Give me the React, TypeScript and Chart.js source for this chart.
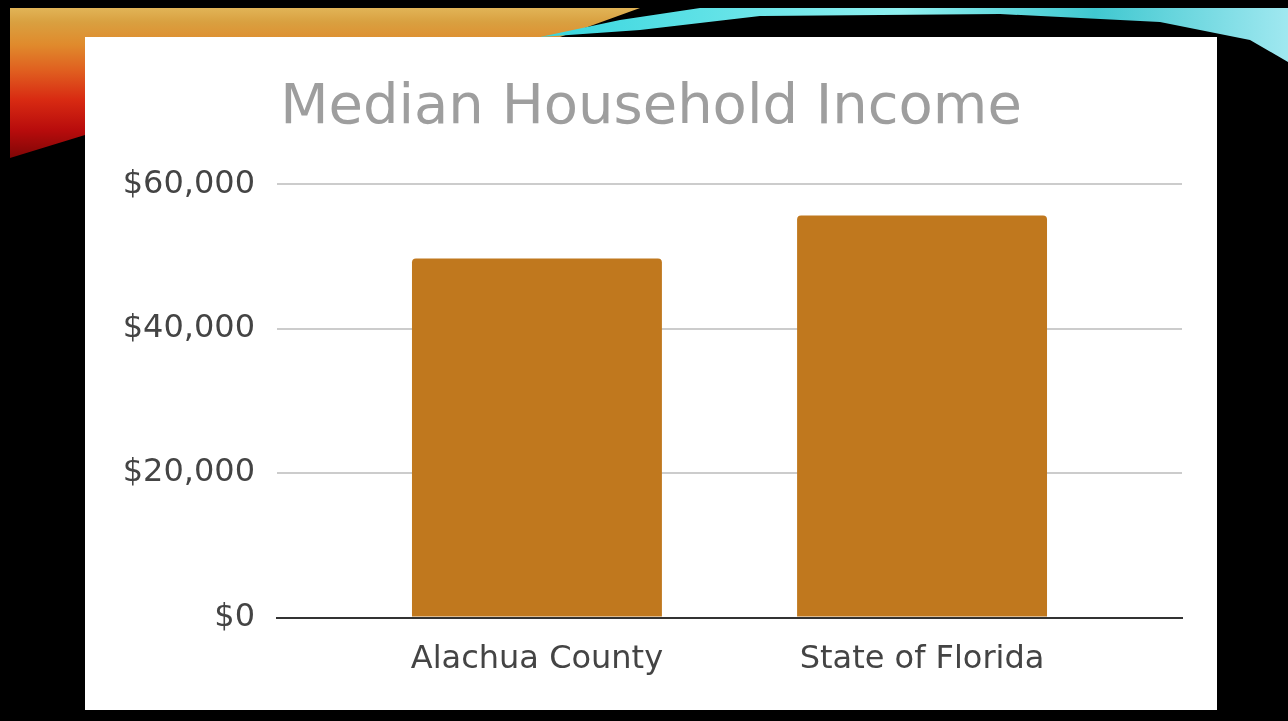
import React, { useEffect, useRef } from "react";
import { Chart, registerables } from "chart.js";

Chart.register(...registerables);

const chartTitle = "Median Household Income";
const categories = ["Alachua County", "State of Florida"];
const incomes = [49700, 55660];
const yTickValues = [0, 20000, 40000, 60000];

const FONT = "'DejaVu Sans', Verdana, sans-serif";

export default function App() {
  const ref = useRef<HTMLCanvasElement>(null);

  useEffect(() => {
    const chart = new Chart(ref.current as HTMLCanvasElement, {
      type: "bar",
      data: {
        datasets: [
          {
            data: incomes.map((v, i) => ({ x: i, y: v })),
            backgroundColor: "#c0781e",
            borderRadius: 4,
            categoryPercentage: 1,
            barPercentage: 0.649,
          },
        ],
      },
      options: {
        animation: false,
        responsive: false,
        layout: { padding: { top: 0, bottom: 8, left: 35, right: 35 } },
        plugins: {
          legend: { display: false },
          tooltip: { enabled: false },
          title: {
            display: true,
            text: chartTitle,
            color: "#9e9e9e",
            font: { family: FONT, size: 56, weight: "normal", lineHeight: 1.2 },
            padding: { top: 38, bottom: 42 },
          },
        },
        scales: {
          x: {
            type: "linear",
            offset: false,
            min: -0.675,
            max: 1.675,
            z: 1,
            grid: { display: false, drawTicks: false, offset: false },
            border: { display: true, color: "#333333", width: 2 },
            afterBuildTicks: (s: any) => {
              s.ticks = categories.map((_, i) => ({ value: i }));
            },
            ticks: {
              callback: (v: any) => categories[Number(v)] ?? "",
              color: "#444444",
              font: { family: FONT, size: 32, lineHeight: 1.2 },
              padding: 23,
              maxRotation: 0,
              autoSkip: false,
            },
          },
          y: {
            min: 0,
            max: 60000,
            afterBuildTicks: (s: any) => {
              s.ticks = yTickValues.map((v) => ({ value: v }));
            },
            afterFit: (s: any) => {
              s.width = 157;
            },
            border: { display: false },
            grid: {
              drawTicks: false,
              color: (ctx: any) => (ctx.tick && ctx.tick.value === 0 ? "#333333" : "#cccccc"),
              lineWidth: 2,
            },
            ticks: {
              callback: (v: any) => "$" + Number(v).toLocaleString("en-US"),
              color: "#444444",
              font: { family: FONT, size: 32, lineHeight: 1.2 },
              padding: 22,
            },
          },
        },
      },
    } as any);
    return () => chart.destroy();
  }, []);

  return (
    <div
      style={{
        position: "absolute",
        left: 0,
        top: 0,
        width: 1288,
        height: 721,
        background: "#000",
        overflow: "hidden",
      }}
    >
      {/* warm decorative band */}
      <div
        style={{
          position: "absolute",
          left: 0,
          top: 0,
          width: 1288,
          height: 721,
          clipPath:
            "polygon(10px 8px, 640px 8px, 560px 37px, 85px 37px, 85px 135px, 10px 158px)",
          background:
            "linear-gradient(180deg, #e6c064 0px, #d9a040 22px, #e08a2c 45px, #e06020 70px, #d82a12 100px, #b80c0c 130px, #800606 158px, #600 721px)",
        }}
      />
      {/* green / cyan band */}
      <div
        style={{
          position: "absolute",
          left: 0,
          top: 0,
          width: 1288,
          height: 721,
          clipPath:
            "polygon(540px 37px, 620px 20px, 700px 8px, 1288px 8px, 1288px 62px, 1250px 40px, 1160px 22px, 1000px 14px, 760px 16px, 640px 30px)",
          background:
            "linear-gradient(90deg, #1a6a30 0%, #0d7a40 10%, #20b0a0 25%, #40d8e0 45%, #8ff0f0 70%, #40c8d0 85%, #a0e8f0 100%)",
        }}
      />
      <div
        style={{
          position: "absolute",
          left: 85,
          top: 37,
          width: 1132,
          height: 673,
          background: "#fff",
        }}
      >
        <canvas ref={ref} width={1132} height={673} style={{ display: "block" }} />
      </div>
    </div>
  );
}
